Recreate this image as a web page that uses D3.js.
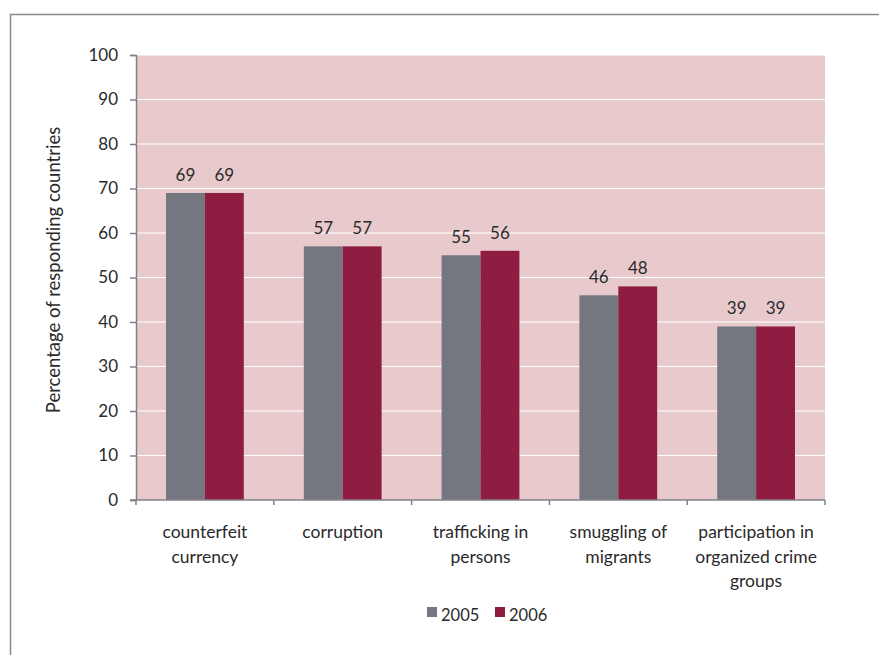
<!DOCTYPE html>
<html><head><meta charset="utf-8">
<script src="https://cdn.jsdelivr.net/npm/d3@7"></script>
<style>body{margin:0;background:#fff;} svg{display:block;font-family:Lato,"Open Sans",sans-serif;}</style>
</head><body>
<svg id="c" width="879" height="655"></svg>
<script>
const categories = [["counterfeit","currency"],["corruption"],["trafficking in","persons"],["smuggling of","migrants"],["participation in","organized crime","groups"]];
const seriesNames = ["2005","2006"];
const values2005 = [69,57,55,46,39];
const values2006 = [69,57,56,48,39];
const yTicks = [0,10,20,30,40,50,60,70,80,90,100];
const colors = ["#747780","#8f1c41"];

const svg = d3.select("#c");
svg.append("path").attr("d","M10.5,655 V14.5 H879").attr("fill","none").attr("stroke","#8a8a8e").attr("stroke-width",1.5);

const L=136,R=825,T=55,B=500;
const x = d3.scaleBand().domain(d3.range(categories.length)).range([L,R]).paddingInner(0).paddingOuter(0);
const inner = d3.scaleBand().domain(seriesNames).range([30, x.bandwidth()-30]);
const y = d3.scaleLinear().domain([0,100]).range([B,T]);

svg.append("rect").attr("x",L).attr("y",T).attr("width",R-L).attr("height",B-T).attr("fill","#e8cacd");
svg.append("g").selectAll("line").data(yTicks.filter(d=>d>0)).join("line")
  .attr("x1",L).attr("x2",R).attr("y1",d=>y(d)).attr("y2",d=>y(d)).attr("stroke","#fff").attr("stroke-width",1.2);

const data = categories.map((c,i)=>({i, vals:[values2005[i],values2006[i]]}));
const g = svg.append("g");
data.forEach(d=>{
  d.vals.forEach((v,j)=>{
    const bx = x(d.i)+inner(seriesNames[j]);
    g.append("rect").attr("x",bx).attr("y",y(v)).attr("width",inner.bandwidth()).attr("height",y(0)-y(v)).attr("fill",colors[j]);
    g.append("text").attr("x",bx+inner.bandwidth()/2).attr("y",y(v)-12).attr("text-anchor","middle")
      .attr("font-size",17).attr("fill","#2a2a2a").text(v);
  });
});

const ya = svg.append("g").attr("transform",`translate(${L},0)`)
  .call(d3.axisLeft(y).tickValues(yTicks).tickSize(6).tickPadding(12));
ya.select(".domain").attr("stroke","#808088").attr("stroke-width",1.5);
ya.selectAll(".tick line").attr("stroke","#808088").attr("stroke-width",1.5);
ya.selectAll("text").attr("font-size",17).attr("fill","#2a2a2a").attr("font-family","Lato,sans-serif");

svg.append("line").attr("x1",L-6).attr("x2",R).attr("y1",B).attr("y2",B).attr("stroke","#808088").attr("stroke-width",1.5);
svg.append("g").selectAll("line").data(d3.range(categories.length+1)).join("line")
  .attr("x1",d=>L+d*x.bandwidth()).attr("x2",d=>L+d*x.bandwidth()).attr("y1",B).attr("y2",B+5).attr("stroke","#808088").attr("stroke-width",1.5);
categories.forEach((c,i)=>{
  const t = svg.append("text").attr("text-anchor","middle").attr("font-size",17.5).attr("fill","#2a2a2a");
  c.forEach((ln,k)=>t.append("tspan").attr("x",x(i)+x.bandwidth()/2).attr("y",538+k*24.5).text(ln));
});

svg.append("text").attr("transform","translate(60,270) rotate(-90)").attr("text-anchor","middle")
  .attr("font-size",18.5).attr("fill","#2a2a2a").text("Percentage of responding countries");

const lg = svg.append("g");
const lx=[427,495];
seriesNames.forEach((s,j)=>{
  lg.append("rect").attr("x",lx[j]).attr("y",607).attr("width",10).attr("height",10).attr("fill",colors[j]);
  lg.append("text").attr("x",lx[j]+14).attr("y",621).attr("font-size",16.5).attr("fill","#2a2a2a").text(s);
});
</script>
</body></html>
